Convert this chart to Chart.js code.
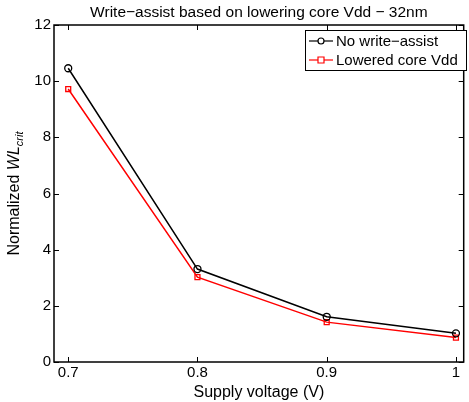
<!DOCTYPE html>
<html>
<head>
<meta charset="utf-8">
<script src="https://cdn.jsdelivr.net/npm/chart.js@4"></script>
<style>
  html, body { margin: 0; padding: 0; background: #fff; }
  #wrap { width: 469px; height: 402px; }
</style>
</head>
<body>
<div id="wrap"><canvas id="myChart" width="469" height="402"></canvas></div>
<script>
// data
var voltages = [0.7, 0.8, 0.9, 1.0];
var noAssist = [10.46, 3.31, 1.61, 1.02];
var loweredVdd = [9.72, 3.02, 1.42, 0.87];
var xTicks = [0.7, 0.8, 0.9, 1.0];
var yTicks = [0, 2, 4, 6, 8, 10, 12];

var FONT = '"Liberation Sans", Arial, sans-serif';

function pts(vals) {
    return voltages.map(function (v, i) { return { x: v, y: vals[i] }; });
}

// matlab style: inward ticks on all four sides, title, y label with subscript, legend box
var matlabBits = {
    id: 'matlabBits',
    afterDraw: function (chart) {
        var c = chart.ctx, a = chart.chartArea;
        var xs = chart.scales.x, ys = chart.scales.y;
        c.save();
        c.strokeStyle = '#000';
        c.lineWidth = 1;
        c.beginPath();
        xTicks.forEach(function (t) {
            var px = Math.round(xs.getPixelForValue(t)) + 0.5;
            c.moveTo(px, a.bottom); c.lineTo(px, a.bottom - 5);
            c.moveTo(px, a.top); c.lineTo(px, a.top + 5);
        });
        yTicks.forEach(function (t) {
            var py = Math.round(ys.getPixelForValue(t)) + 0.5;
            c.moveTo(a.left, py); c.lineTo(a.left + 5, py);
            c.moveTo(a.right, py); c.lineTo(a.right - 5, py);
        });
        c.stroke();
        // box
        c.lineWidth = 1.5;
        c.strokeRect(a.left, a.top, a.right - a.left, a.bottom - a.top);

        // title
        c.fillStyle = '#000';
        c.font = '15.5px ' + FONT;
        c.textAlign = 'center';
        c.textBaseline = 'bottom';
        c.fillText('Write\u2212assist based on lowering core Vdd \u2212 32nm', (a.left + a.right) / 2, a.top - 5);

        // y label
        c.save();
        c.translate(15, (a.top + a.bottom) / 2);
        c.rotate(-Math.PI / 2);
        var p1 = 'Normalized ', p2 = 'WL', p3 = 'crit';
        c.font = '16px ' + FONT;
        var w1 = c.measureText(p1).width;
        c.font = 'italic 16px ' + FONT;
        var w2 = c.measureText(p2).width;
        c.font = 'italic 11px ' + FONT;
        var w3 = c.measureText(p3).width;
        var x0 = -(w1 + w2 + w3) / 2;
        c.textAlign = 'left';
        c.textBaseline = 'middle';
        c.font = '16px ' + FONT;
        c.fillText(p1, x0, 0);
        c.font = 'italic 16px ' + FONT;
        c.fillText(p2, x0 + w1, 0);
        c.font = 'italic 11px ' + FONT;
        c.fillText(p3, x0 + w1 + w2, 5);
        c.restore();

        // legend
        var lx = 305, ly = 30, lw = 161, lh = 40;
        c.fillStyle = '#fff';
        c.fillRect(lx, ly, lw, lh);
        c.lineWidth = 1;
        c.strokeStyle = '#000';
        c.strokeRect(lx + 0.5, ly + 0.5, lw, lh);
        var items = [
            { label: 'No write\u2212assist', color: '#000', shape: 'circle' },
            { label: 'Lowered core Vdd', color: '#ff0000', shape: 'rect' }
        ];
        c.font = '15px ' + FONT;
        c.textAlign = 'left';
        c.textBaseline = 'middle';
        items.forEach(function (it, i) {
            var yy = ly + 11 + i * 19;
            c.strokeStyle = it.color;
            c.lineWidth = 1.2;
            c.beginPath();
            c.moveTo(lx + 4, yy); c.lineTo(lx + 28, yy);
            c.stroke();
            c.beginPath();
            if (it.shape === 'circle') {
                c.arc(lx + 16, yy, 3, 0, Math.PI * 2);
            } else {
                c.rect(lx + 13, yy - 3, 6, 6);
            }
            c.fillStyle = '#fff';
            c.fill();
            c.stroke();
            c.fillStyle = '#000';
            c.fillText(it.label, lx + 31, yy + 1);
        });
        c.restore();
    }
};

var ctx = document.getElementById('myChart').getContext('2d');

var myChart = new Chart(ctx, {
    type: 'scatter',
    data: {
        datasets: [{
            label: 'No write-assist',
            data: pts(noAssist),
            showLine: true,
            borderColor: '#000',
            backgroundColor: 'rgba(0,0,0,0)',
            borderWidth: 1.5,
            pointStyle: 'circle',
            pointRadius: 3.5,
            pointBorderWidth: 1.3
        }, {
            label: 'Lowered core Vdd',
            data: pts(loweredVdd),
            showLine: true,
            borderColor: '#ff0000',
            backgroundColor: 'rgba(0,0,0,0)',
            borderWidth: 1.5,
            pointStyle: 'rect',
            pointRadius: 3.5,
            pointBorderWidth: 1.3
        }]
    },
    options: {
        responsive: false,
        animation: false,
        devicePixelRatio: 1,
        plugins: {
            legend: { display: false },
            tooltip: { enabled: false }
        },
        layout: {
            padding: { top: 25, right: 2, left: 0, bottom: 0 }
        },
        scales: {
            x: {
                type: 'linear',
                min: 0.689,
                max: 1.006,
                afterBuildTicks: function (scale) {
                    scale.ticks = xTicks.map(function (v) { return { value: v }; });
                },
                afterFit: function (scale) { scale.height = 40; },
                grid: { display: false, drawTicks: false },
                border: { display: false },
                ticks: {
                    color: '#000',
                    font: { family: FONT, size: 15 },
                    padding: 2,
                    maxRotation: 0,
                    callback: function (v) { return String(Math.round(v * 10) / 10); }
                },
                title: {
                    display: true,
                    text: 'Supply voltage (V)',
                    color: '#000',
                    font: { family: FONT, size: 16 },
                    padding: { top: 0, bottom: 0 }
                }
            },
            y: {
                min: 0,
                max: 12,
                afterBuildTicks: function (scale) {
                    scale.ticks = yTicks.map(function (v) { return { value: v }; });
                },
                afterFit: function (scale) { scale.width = 54; },
                grid: { display: false, drawTicks: false },
                border: { display: false },
                ticks: {
                    color: '#000',
                    font: { family: FONT, size: 15 },
                    padding: 3
                }
            }
        }
    },
    plugins: [matlabBits]
});
</script>
</body>
</html>
